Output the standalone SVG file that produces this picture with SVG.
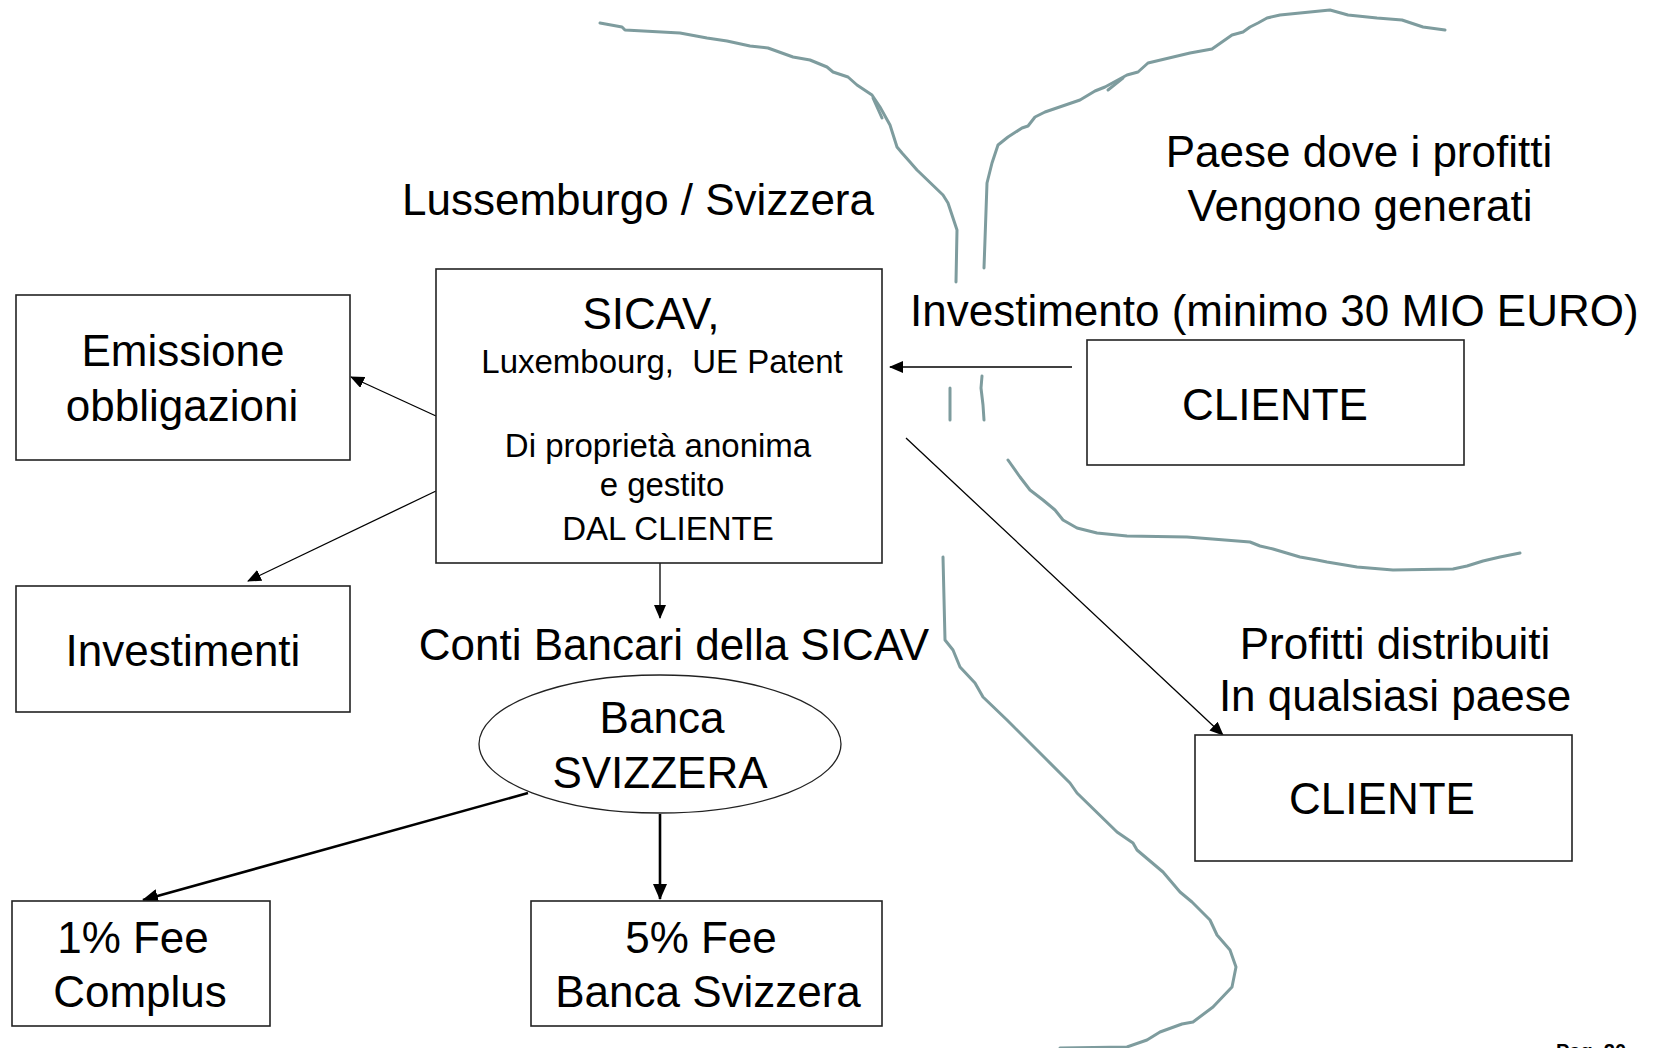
<svg xmlns="http://www.w3.org/2000/svg" width="1656" height="1048" viewBox="0 0 1656 1048">
<defs>
<style>
text{font-family:"Liberation Sans",Arial,sans-serif;fill:#000}
.big{font-size:44px}
.small{font-size:33px}
.box{fill:#fff;stroke:#222;stroke-width:1.6}
.bank{fill:none;stroke:#7e9c9e;stroke-width:3;stroke-linejoin:round;stroke-linecap:round}
.thin{fill:none;stroke:#000;stroke-width:1.3}
.thick{fill:none;stroke:#000;stroke-width:2.6}
</style>
<marker id="ah" markerUnits="userSpaceOnUse" markerWidth="14" markerHeight="12" refX="13" refY="6" orient="auto">
<path d="M0,0 L14,6 L0,12 Z" fill="#000"/>
</marker>
<marker id="ahb" markerUnits="userSpaceOnUse" markerWidth="16" markerHeight="14" refX="15" refY="7" orient="auto">
<path d="M0,0 L16,7 L0,14 Z" fill="#000"/>
</marker>
</defs>
<rect width="1656" height="1048" fill="#fff"/>

<g id="river">
<polyline class="bank" points="600,23 622,27 625,30 680,33 707,38 727,41 750,46 768,48 793,57 810,60 827,67 833,72 848,77 857,85 872,95 880,107 890,125 897,147 902,153 910,162 917,170 943,195 948,203 957,230 956,282"/>
<polyline class="bank" points="873,98 882,118"/>
<polyline class="bank" points="1445,30 1423,27 1402,20 1377,18 1348,15 1330,10 1280,15 1267,18 1258,23 1250,27 1243,32 1232,35 1212,49 1190,53 1148,63 1138,72 1127,75 1105,87 1095,91 1080,100 1045,112 1035,117 1028,126 1022,128 1008,137 998,145 992,163 987,183 984,268"/>
<polyline class="bank" points="1108,90 1123,78"/>
<polyline class="bank" points="950,388 950,420"/>
<polyline class="bank" points="982,376 981,388 983,405 984,420"/>
<polyline class="bank" points="1008,460 1020,477 1030,490 1043,500 1055,510 1063,520 1077,528 1097,533 1127,536 1187,537 1250,542 1260,546 1273,549 1300,557 1317,560 1327,562 1357,567 1393,570 1453,569 1467,566 1483,561 1500,557 1520,553"/>
<polyline class="bank" points="943,557 945,640 953,650 960,667 975,683 983,697 1007,720 1047,760 1070,783 1077,793 1117,832 1133,843 1137,850 1163,872 1180,892 1192,902 1210,920 1217,935 1230,950 1236,967 1232,987 1213,1007 1193,1022 1182,1024 1160,1032 1147,1040 1127,1047 1060,1048"/>
</g>

<g id="connectors">
<line class="thin" x1="436" y1="416" x2="351" y2="377" marker-end="url(#ah)"/>
<line class="thin" x1="436" y1="491" x2="248" y2="581" marker-end="url(#ah)"/>
<line class="thin" x1="660" y1="563" x2="660" y2="618" marker-end="url(#ah)"/>
<line class="thin" x1="1072" y1="367" x2="890" y2="367" marker-end="url(#ah)"/>
<line class="thin" x1="906" y1="438" x2="1223" y2="735" marker-end="url(#ah)"/>
<line class="thick" x1="528" y1="793" x2="143" y2="900" marker-end="url(#ahb)"/>
<line class="thick" x1="660" y1="814" x2="660" y2="899" marker-end="url(#ahb)"/>
</g>

<g id="label-lussemburgo"><text class="big" x="638" y="215" text-anchor="middle">Lussemburgo / Svizzera</text></g>
<g id="label-paese"><text class="big" x="1359" y="167" text-anchor="middle">Paese dove i profitti</text><text class="big" x="1360" y="221" text-anchor="middle">Vengono generati</text></g>
<g id="label-investimento"><text class="big" x="910" y="326">Investimento (minimo 30 MIO EURO)</text></g>

<g id="sicav">
<rect class="box" x="436" y="269" width="446" height="294"/>
<text class="big" x="651" y="329" text-anchor="middle">SICAV,</text>
<text class="small" x="662" y="373" text-anchor="middle" xml:space="preserve">Luxembourg,  UE Patent</text>
<text class="small" x="658" y="457" text-anchor="middle">Di proprietà anonima</text>
<text class="small" x="662" y="496" text-anchor="middle">e gestito</text>
<text class="small" x="668" y="540" text-anchor="middle">DAL CLIENTE</text>
</g>

<g id="emissione">
<rect class="box" x="16" y="295" width="334" height="165"/>
<text class="big" x="183" y="366" text-anchor="middle">Emissione</text>
<text class="big" x="182" y="421" text-anchor="middle">obbligazioni</text>
</g>

<g id="investimenti">
<rect class="box" x="16" y="586" width="334" height="126"/>
<text class="big" x="183" y="666" text-anchor="middle">Investimenti</text>
</g>

<g id="cliente1">
<rect class="box" x="1087" y="340" width="377" height="125"/>
<text class="big" x="1275" y="420" text-anchor="middle">CLIENTE</text>
</g>

<g id="label-conti"><text class="big" x="674" y="660" text-anchor="middle">Conti Bancari della SICAV</text></g>

<g id="banca">
<ellipse class="box" cx="660" cy="744" rx="181" ry="69" style="stroke-width:1.3"/>
<text class="big" x="662" y="733" text-anchor="middle">Banca</text>
<text class="big" x="660" y="788" text-anchor="middle">SVIZZERA</text>
</g>

<g id="label-profitti"><text class="big" x="1395" y="659" text-anchor="middle">Profitti distribuiti</text><text class="big" x="1395" y="711" text-anchor="middle">In qualsiasi paese</text></g>

<g id="cliente2">
<rect class="box" x="1195" y="735" width="377" height="126"/>
<text class="big" x="1382" y="814" text-anchor="middle">CLIENTE</text>
</g>

<g id="fee1">
<rect class="box" x="12" y="901" width="258" height="125"/>
<text class="big" x="133" y="953" text-anchor="middle">1% Fee</text>
<text class="big" x="140" y="1007" text-anchor="middle">Complus</text>
</g>

<g id="fee5">
<rect class="box" x="531" y="901" width="351" height="125"/>
<text class="big" x="701" y="953" text-anchor="middle">5% Fee</text>
<text class="big" x="708" y="1007" text-anchor="middle">Banca Svizzera</text>
</g>

<text x="1556" y="1058" style="font-size:20px;font-weight:bold">Pag. 20</text>
</svg>
